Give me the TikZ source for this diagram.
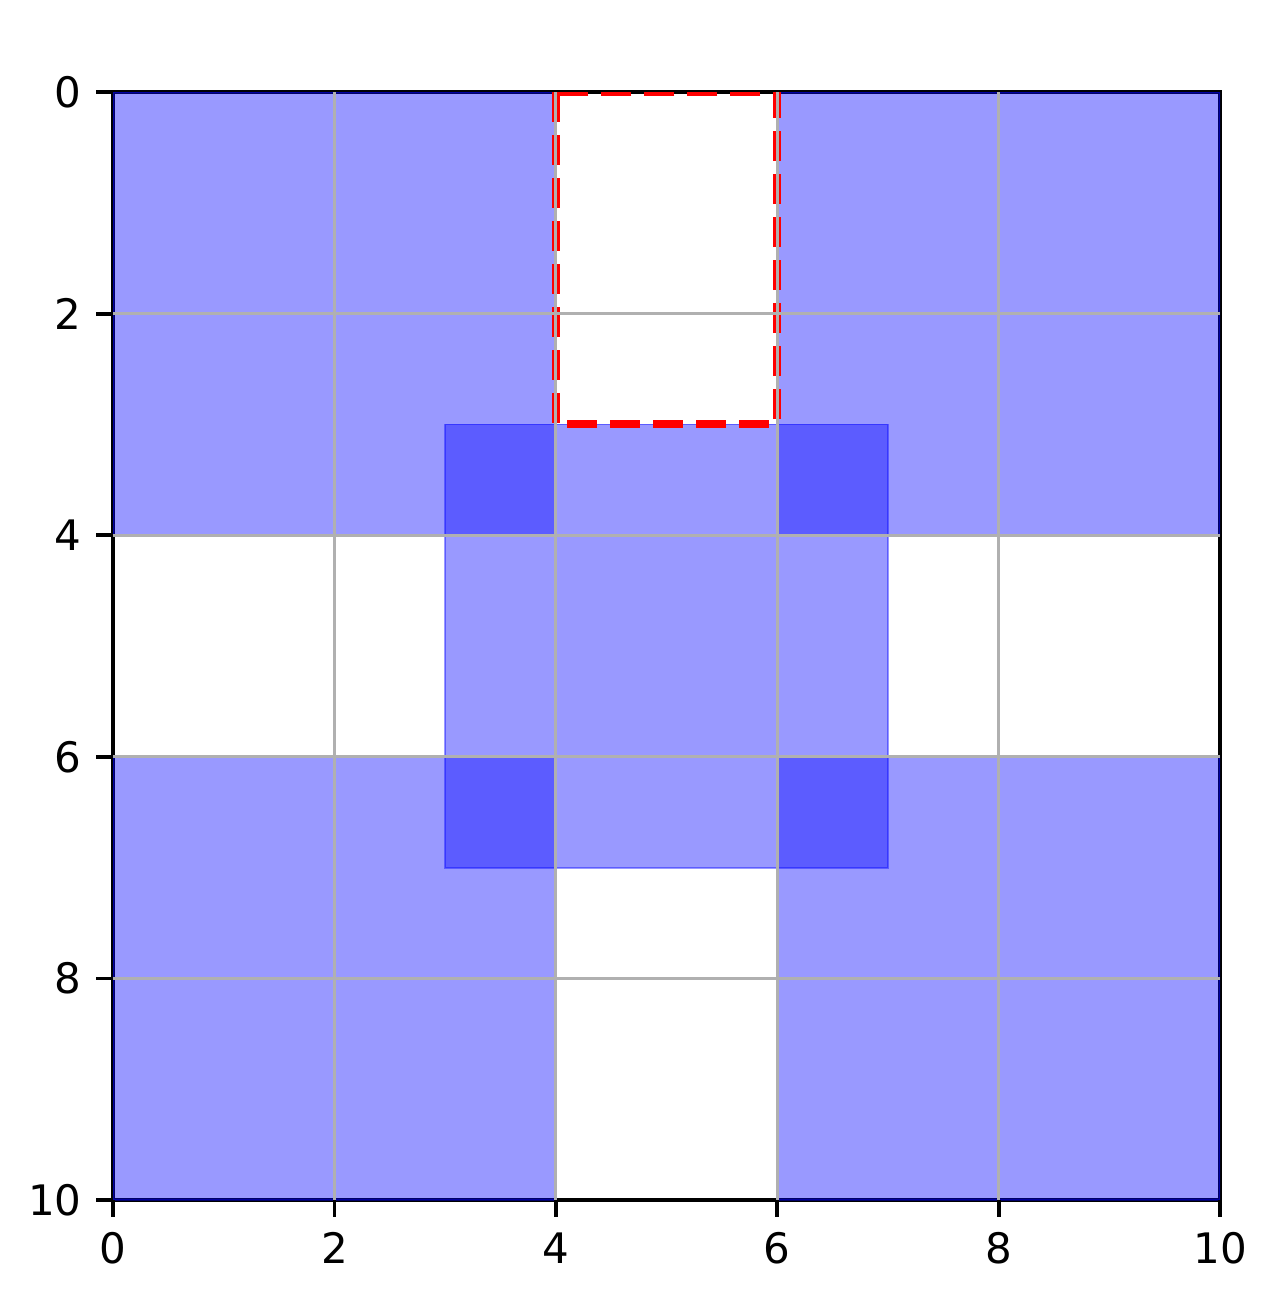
\documentclass[tikz,border=0pt]{standalone}
\usepackage{fontspec}
\setmainfont{DejaVu Sans}
\definecolor{gridgray}{RGB}{176,176,176}
\begin{document}
\begin{tikzpicture}[x=0.5pt,y=-0.5pt,
  patch/.style={fill=blue,fill opacity=0.4,draw=blue,draw opacity=0.4,line width=0.9pt},
  spine/.style={draw=black,line width=1.9pt},
  reddash/.style={draw=red,line width=4pt,dash pattern=on 15pt off 6.5pt},
  gridline/.style={draw=gridgray,line width=1.4pt},
  tickmark/.style={draw=black,line width=1.9pt},
  ticklabel/.style={inner sep=0pt,font=\fontsize{21}{24}\selectfont}]
\useasboundingbox (0,0) rectangle (1277,1302);
\begin{scope}[shift={(56.5pt,-46pt)},x=55.35pt,y=-55.4pt]
  % spines
  \draw[spine] (0,0) rectangle (10,10);
  \begin{scope}
    \clip (0,0) rectangle (10,10);
    % patches
    \path[patch] (0,0) rectangle (4,4);
    \path[patch] (6,0) rectangle (10,4);
    \path[patch] (0,6) rectangle (4,10);
    \path[patch] (6,6) rectangle (10,10);
    \path[patch] (3,3) rectangle (7,7);
    % red dashed region
    \draw[reddash] (4,0) rectangle (6,3);
  \end{scope}
  % grid
  \foreach \v in {2,4,6,8} {
    \draw[gridline] (\v,0) -- (\v,10);
    \draw[gridline] (0,\v) -- (10,\v);
  }
  % ticks and labels
  \foreach \v in {0,2,4,6,8,10} {
    \draw[tickmark] (\v,10) -- ++(0pt,-8.5pt);
    \draw[tickmark] (0,\v) -- ++(-8.5pt,0pt);
    \node[ticklabel,anchor=north,yshift=-16pt] (xl\v) at (\v,10) {\v};
    \node[ticklabel,anchor=east,xshift=-15.5pt] (yl\v) at (0,\v) {\v};
  }
\end{scope}
\end{tikzpicture}
\end{document}
